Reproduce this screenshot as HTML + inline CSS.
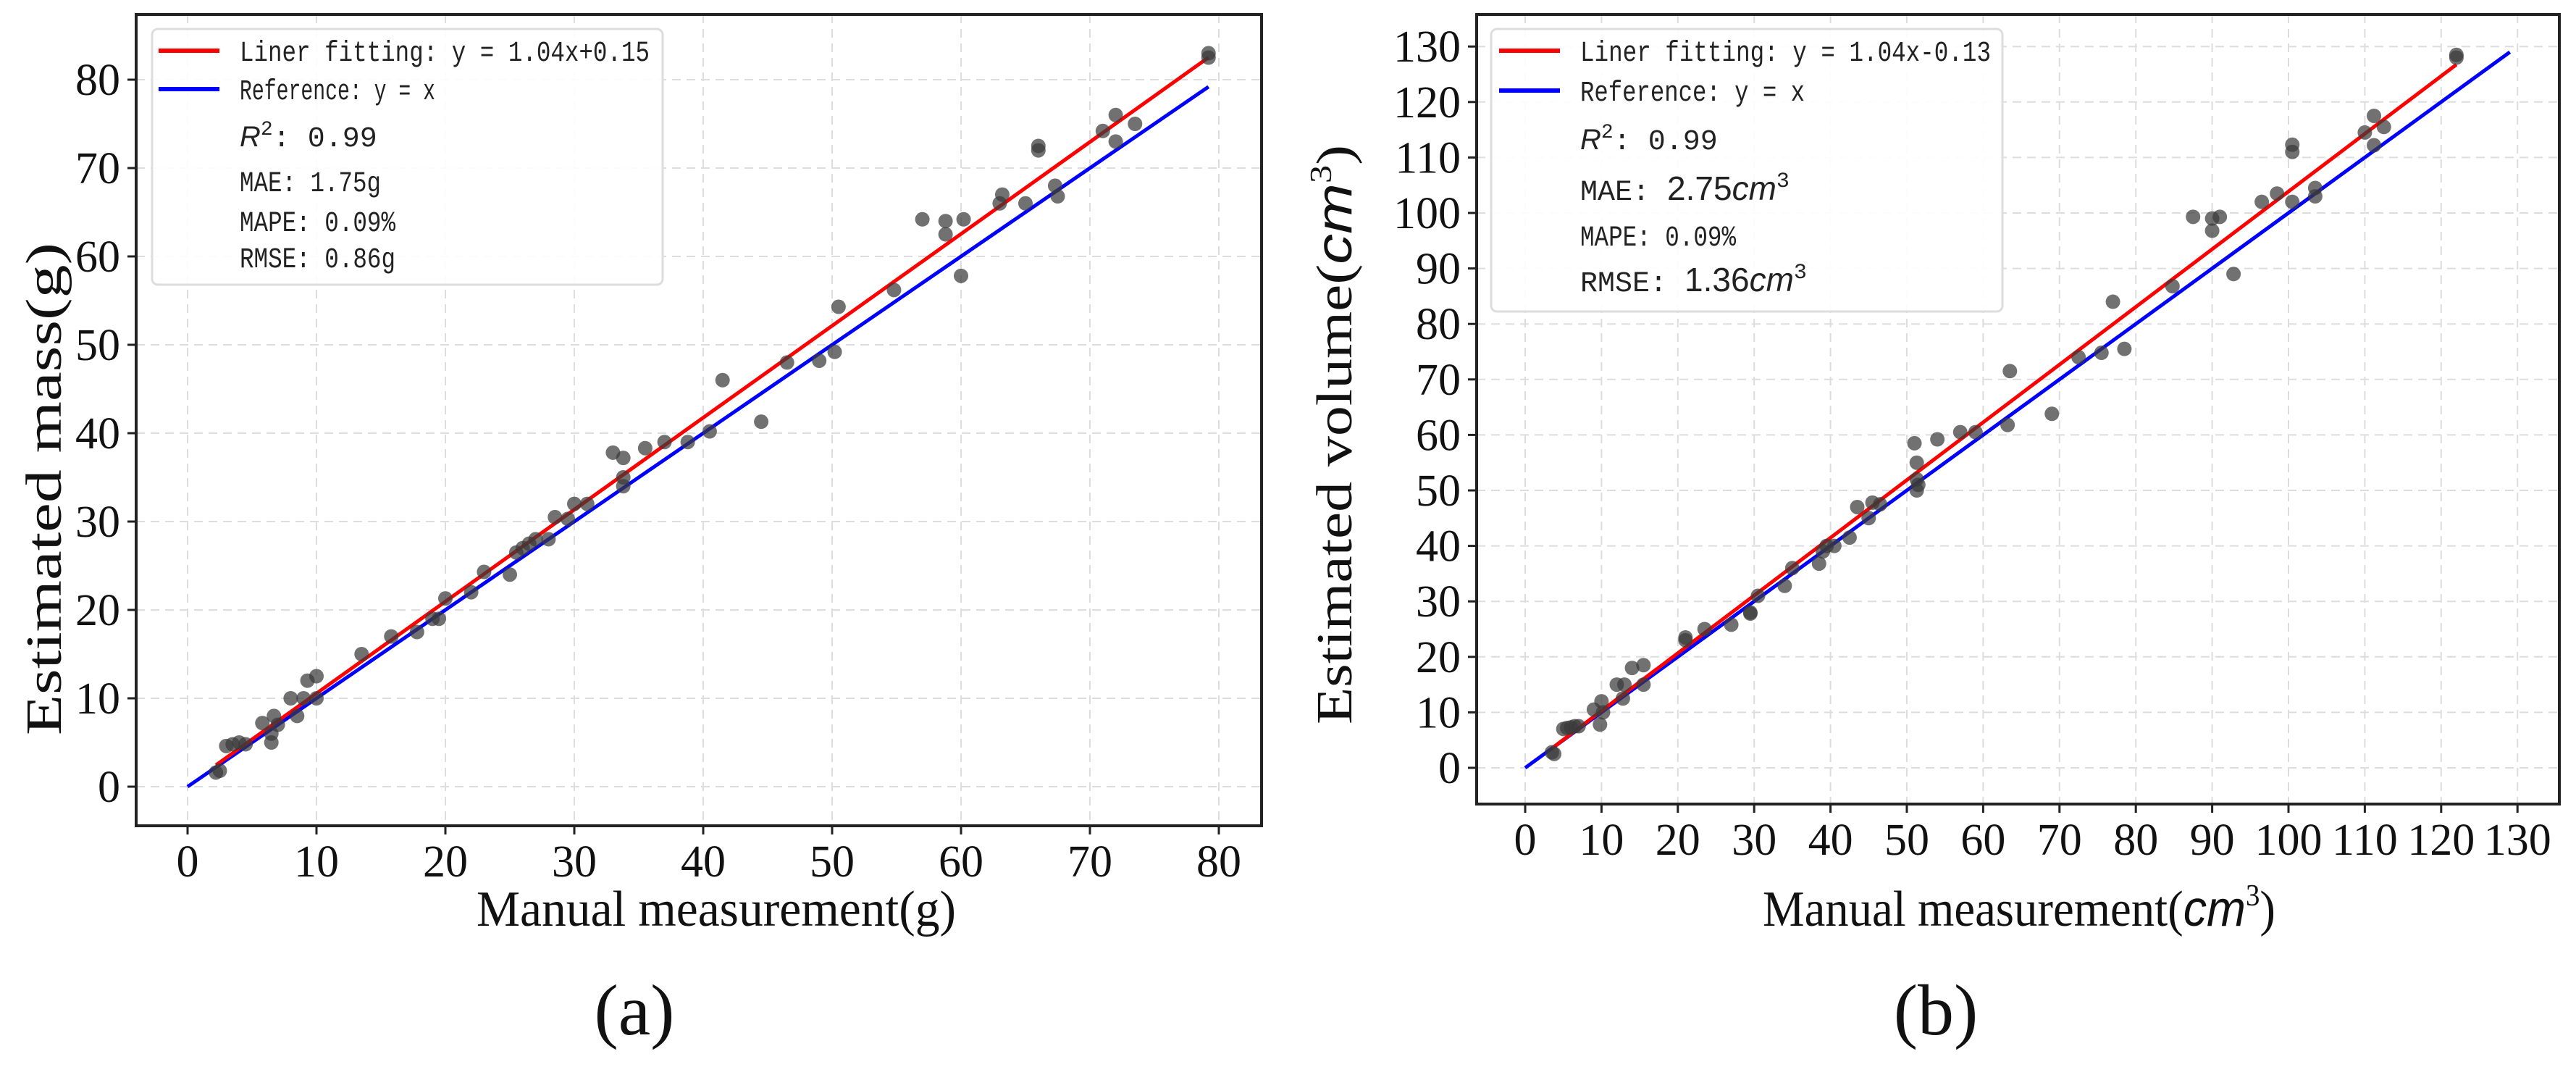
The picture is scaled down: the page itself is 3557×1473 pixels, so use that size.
<!DOCTYPE html>
<html><head><meta charset="utf-8"><style>
html,body{margin:0;padding:0;background:#fff}
svg{display:block}
.tick{font-family:"Liberation Serif",serif;font-size:62px;fill:#111}
.leg{font-family:"Liberation Mono","Noto Sans CJK SC",monospace;font-size:40px;fill:#222}
.ttl{font-family:"Liberation Serif",serif;font-size:70px;fill:#111}
.cap{font-family:"Liberation Serif",serif;font-size:100px;fill:#111}
</style></head><body>
<svg id="fig" width="3557" height="1473" viewBox="0 0 3557 1473" xmlns="http://www.w3.org/2000/svg"></svg>
<script>
// Panel (a) data: mass (g)
const massManual = [2.2,2.5,3,3.5,4,4.5,5.8,6.5,6.5,6.7,7,8,8.5,9,9.3,10,10,13.5,15.8,17.8,19,19.5,20,22,23,25,25.5,26,26.5,27,28,28.5,29.5,30,31,33,33.8,33.8,33.8,35.5,37,38.8,40.5,41.5,44.5,46.5,49,50.2,50.5,54.8,57,58.8,58.8,60,60.2,63,63.2,65,66,66,67.3,67.5,71,72,72,73.5,79.2,79.2];
const massEst = [1.6,1.8,4.6,4.8,5,4.8,7.2,5,6,8,7,10,8,10,12,12.5,10,15,17,17.5,19,19,21.3,22,24.3,24,26.5,27,27.5,28,28,30.5,30.3,32,32,37.8,37.2,35,34,38.3,39,39,40.2,46,41.3,48,48.2,49.2,54.3,56.2,64.2,64,62.5,57.8,64.2,66,67,66,72.5,72,68,66.8,74.2,73,76,75,83,82.5];
const massTicks = [0,10,20,30,40,50,60,70,80];
const massFit = [1.04, 0.15];
// Panel (b) data: volume (cm3)
const volManual = [3.5,3.8,5,5.5,6,6.5,7,9,9.8,10,10.2,12,12.8,13,14,15.5,15.5,21,21,23.5,27,29.5,29.5,30.5,34,35,38.5,39,39.5,40.5,42.5,43.5,45,45.5,46.5,51,51.3,51.3,51.3,51.5,54,57,59,63.2,63.5,69,72.5,75.5,77,78.5,84.8,87.5,90,90,91,92.8,96.5,98.5,100.5,100.5,100.5,103.5,103.5,110,111.2,111.2,112.5,122,122];
const volEst = [2.8,2.5,7,7.2,7.3,7.5,7.5,10.5,7.8,12,10,15,12.5,15,18,18.5,15,23.5,23,25,25.8,28,27.8,31,32.8,36,36.8,39,40,40,41.5,47,45,47.8,47.5,58.5,55,52,50,51,59.2,60.5,60.5,61.8,71.5,63.8,74,74.8,84,75.5,86.8,99.3,99,96.8,99.3,89,102,103.5,112.3,111,102,103,104.5,114.5,117.5,112.2,115.5,128.5,128];
const volXTicks = [0,10,20,30,40,50,60,70,80,90,100,110,120,130];
const volYTicks = [0,10,20,30,40,50,60,70,80,90,100,110,120,130];
const volFit = [1.04, -0.13];

const NS="http://www.w3.org/2000/svg";
const svg=document.getElementById('fig');
function mk(tag,attrs,parent,text){const e=document.createElementNS(NS,tag);for(const k in attrs)e.setAttribute(k,attrs[k]);if(text!==undefined)e.textContent=text;(parent||svg).appendChild(e);return e;}

function panel(cfg){
  const g=mk('g',{});
  
  
  const sx=v=>cfg.x0+(v-0)*cfg.kx;
  const sy=v=>cfg.y0-(v-0)*cfg.ky;
  cfg.xt.forEach(t=>{const l=mk('line',{x1:sx(t),x2:sx(t),y1:cfg.top,y2:cfg.bottom,stroke:'#ddd','stroke-width':2,'stroke-dasharray':'12,8'},g);
    
    });
  cfg.yt.forEach(t=>{const l=mk('line',{x1:cfg.left,x2:cfg.right,y1:sy(t),y2:sy(t),stroke:'#ddd','stroke-width':2,'stroke-dasharray':'12,8'},g);
    
    });
  cfg.xt.forEach(t=>{mk('line',{x1:sx(t),x2:sx(t),y1:cfg.bottom,y2:cfg.bottom+12,stroke:'#222','stroke-width':3},g);
    const tx=mk('text',{x:sx(t),y:cfg.bottom+70,'text-anchor':'middle',class:'tick'},g,String(t));
    
    });
  cfg.yt.forEach(t=>{mk('line',{x1:cfg.left-12,x2:cfg.left,y1:sy(t),y2:sy(t),stroke:'#222','stroke-width':3},g);
    const tx=mk('text',{x:cfg.left-22,y:sy(t)+21,'text-anchor':'end',class:'tick'},g,String(t));
    
    });
  const ref=mk('line',{x1:sx(0),y1:sy(0),x2:sx(cfg.refMax),y2:sy(cfg.refMax),stroke:'#0000ff','stroke-width':5},g);
  
  
  const xmin=Math.min(...cfg.xs),xmax=Math.max(...cfg.xs);
  const fit=mk('line',{x1:sx(xmin),y1:sy(cfg.fit[0]*xmin+cfg.fit[1]),x2:sx(xmax),y2:sy(cfg.fit[0]*xmax+cfg.fit[1]),stroke:'#ff0000','stroke-width':5},g);
  
  
  cfg.xs.forEach((v,i)=>{const c=mk('circle',{cx:sx(v),cy:sy(cfg.ys[i]),r:10,fill:'#3a3a3a','fill-opacity':0.72},g);
    
    });
  const fr=mk('rect',{x:cfg.left,y:cfg.top,width:cfg.right-cfg.left,height:cfg.bottom-cfg.top,fill:'none',stroke:'#222','stroke-width':4},g);
  
  
  const L=cfg.leg;
  const lg=mk('g',{},g);
  
  
  mk('rect',{x:L.x,y:L.y,width:L.w,height:L.h,rx:8,fill:'#fff','fill-opacity':0.9,stroke:'#ddd','stroke-width':3},lg);
  mk('line',{x1:L.hx1,x2:L.hx2,y1:L.rows[0],y2:L.rows[0],stroke:'#ff0000','stroke-width':6},lg);
  mk('line',{x1:L.hx1,x2:L.hx2,y1:L.rows[1],y2:L.rows[1],stroke:'#0000ff','stroke-width':6},lg);
  L.texts.forEach((t,i)=>{const e=mk('text',{x:L.tx,y:L.rows[i]+14,class:'leg'},lg);e.innerHTML=t[0];
    if(t[1]){e.setAttribute('textLength',t[1]);
    e.setAttribute('lengthAdjust','spacingAndGlyphs');}
    
    });
  const xt=mk('text',{x:cfg.xtitle[0],y:cfg.xtitle[1],'text-anchor':'middle',class:'ttl',textLength:cfg.xtitle[3],lengthAdjust:'spacingAndGlyphs'},g);xt.innerHTML=cfg.xtitle[2];
  
  
  const yt=mk('text',{x:0,y:0,'text-anchor':'middle',class:'ttl',textLength:cfg.ytitle[3],lengthAdjust:'spacingAndGlyphs',transform:`translate(${cfg.ytitle[0]},${cfg.ytitle[1]}) rotate(-90)`},g);yt.innerHTML=cfg.ytitle[2];
  
  
  const cap=mk('text',{x:cfg.cap[0],y:cfg.cap[1],'text-anchor':'middle',class:'cap'},g,cfg.cap[2]);
  
  
}

const it='<tspan font-family="Liberation Sans, sans-serif" font-style="italic">';
panel({name:'panel-a-mass',x0:259,kx:17.8,y0:1086,ky:12.2,left:188,right:1742,top:20,bottom:1140,
  xs:massManual,ys:massEst,xt:massTicks,yt:massTicks,fit:massFit,refMax:79.2,
  leg:{x:210,y:40,w:705,h:353,hx1:219,hx2:303,tx:331,rows:[70,123,188,250,305,355],
    texts:[['Liner fitting: y = 1.04x+0.15',566],['Reference: y = x',270],[it+'R</tspan><tspan dy="-16" font-size="28">2</tspan><tspan dy="16">: 0.99</tspan>',0],['MAE: 1.75g',195],['MAPE: 0.09%',215],['RMSE: 0.86g',215]]},
  xtitle:[989,1278,'Manual measurement(g)',662],ytitle:[84,675,'Estimated mass(g)',680],cap:[876,1428,'(a)']});
panel({name:'panel-b-volume',x0:2106,kx:10.54,y0:1060,ky:7.66,left:2039,right:3534,top:20,bottom:1110,
  xs:volManual,ys:volEst,xt:volXTicks,yt:volYTicks,fit:volFit,refMax:129,
  leg:{x:2059,y:40,w:706,h:390,hx1:2070,hx2:2154,tx:2182,rows:[70,125,192,262,325,388],
    texts:[['Liner fitting: y = 1.04x-0.13',567],['Reference: y = x',310],[it+'R</tspan><tspan dy="-16" font-size="28">2</tspan><tspan dy="16">: 0.99</tspan>',0],['MAE: <tspan font-family="Liberation Sans, sans-serif" font-size="46">2.75</tspan>'+it+'<tspan font-size="46">cm</tspan></tspan><tspan dy="-18" font-size="30">3</tspan>',0],['MAPE: 0.09%',215],['RMSE: <tspan font-family="Liberation Sans, sans-serif" font-size="46">1.36</tspan>'+it+'<tspan font-size="46">cm</tspan></tspan><tspan dy="-18" font-size="30">3</tspan>',0]]},
  xtitle:[2788,1278,'Manual measurement('+it+'cm</tspan><tspan dy="-28" font-size="42">3</tspan><tspan dy="28">)</tspan>',708],
  ytitle:[1866,600,'Estimated volume('+it+'cm</tspan><tspan dy="-28" font-size="42">3</tspan><tspan dy="28">)</tspan>',800],cap:[2673,1428,'(b)']});
</script>
</body></html>
